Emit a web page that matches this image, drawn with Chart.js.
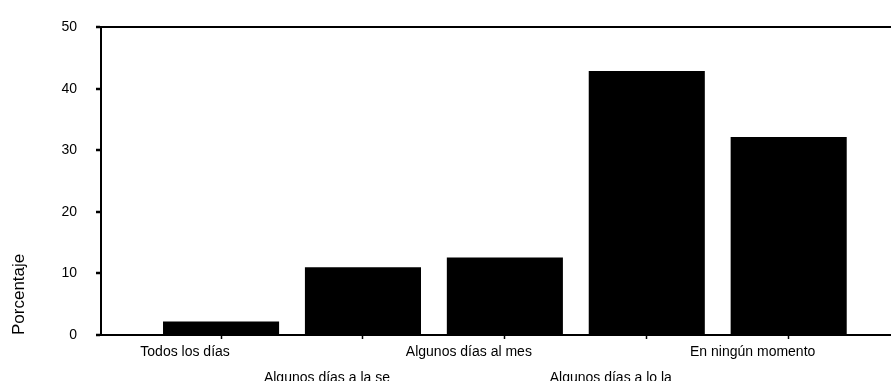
<!DOCTYPE html>
<html lang="es">
<head>
<meta charset="utf-8">
<title>Porcentaje</title>
<script src="https://cdn.jsdelivr.net/npm/chart.js@4/dist/chart.umd.min.js"></script>
<style>
  html, body { margin: 0; padding: 0; background: #fff; overflow: hidden; }
  #wrap { width: 891px; height: 381px; }
</style>
</head>
<body>
<div id="wrap"><canvas id="chart" width="891" height="381"></canvas></div>
<script>
const CATEGORIES = ['Todos los días', 'Algunos días a la se', 'Algunos días al mes', 'Algunos días a lo la', 'En ningún momento'];
const VALUES = [2.2, 11.0, 12.6, 42.9, 32.2];
const Y_TICKS = [0, 10, 20, 30, 40, 50];

// bars sit on a linear x axis so the first one can start well inside the frame
const points = CATEGORIES.map((c, i) => ({ x: i + 1, y: VALUES[i] }));
const FONT = 'Liberation Sans, Arial, sans-serif';

new Chart(document.getElementById('chart'), {
  type: 'bar',
  data: {
    datasets: [{
      data: points,
      backgroundColor: '#000',
      borderWidth: 0,
      categoryPercentage: 1,
      barPercentage: 0.818,
    }]
  },
  options: {
    responsive: false,
    animation: false,
    devicePixelRatio: 1,
    layout: { padding: { top: 18, right: 0, bottom: 0, left: 0 } },
    plugins: { legend: { display: false }, tooltip: { enabled: false } },
    scales: {
      x: {
        type: 'linear',
        offset: false,
        min: 0.154,
        max: 5.721,
        afterBuildTicks: axis => { axis.ticks = CATEGORIES.map((c, i) => ({ value: i + 1 })); },
        afterFit: axis => { axis.height = 46; },
        border: { color: '#000', width: 2 },
        grid: { offset: false, drawOnChartArea: false, drawTicks: true, tickLength: 4, tickColor: '#000', tickWidth: 1.5 },
        ticks: {
          color: '#000',
          font: { family: FONT, size: 14, lineHeight: 1.8 },
          padding: 1,
          labelOffset: -36,
          maxRotation: 0,
          autoSkip: false,
          // alternate labels drop to a second row
          callback: v => {
            const label = CATEGORIES[v - 1];
            return (v - 1) % 2 === 1 ? ['', label] : label;
          }
        }
      },
      y: {
        min: 0,
        max: 50,
        afterBuildTicks: axis => { axis.ticks = Y_TICKS.map(v => ({ value: v })); },
        afterFit: axis => { axis.width = 101; },
        border: { color: '#000', width: 2 },
        grid: {
          color: ctx => ctx.tick && ctx.tick.value === 50 ? '#000' : 'rgba(0,0,0,0)',
          lineWidth: 2,
          drawTicks: true,
          tickLength: 5,
          tickColor: '#000',
          tickWidth: 2.5
        },
        ticks: { color: '#000', font: { family: FONT, size: 14 }, padding: 19 },
        title: {
          display: true,
          text: 'Porcentaje',
          align: 'start',
          color: '#000',
          font: { family: FONT, size: 17 },
          padding: { top: 9, bottom: 0 }
        }
      }
    }
  }
});
</script>
</body>
</html>
